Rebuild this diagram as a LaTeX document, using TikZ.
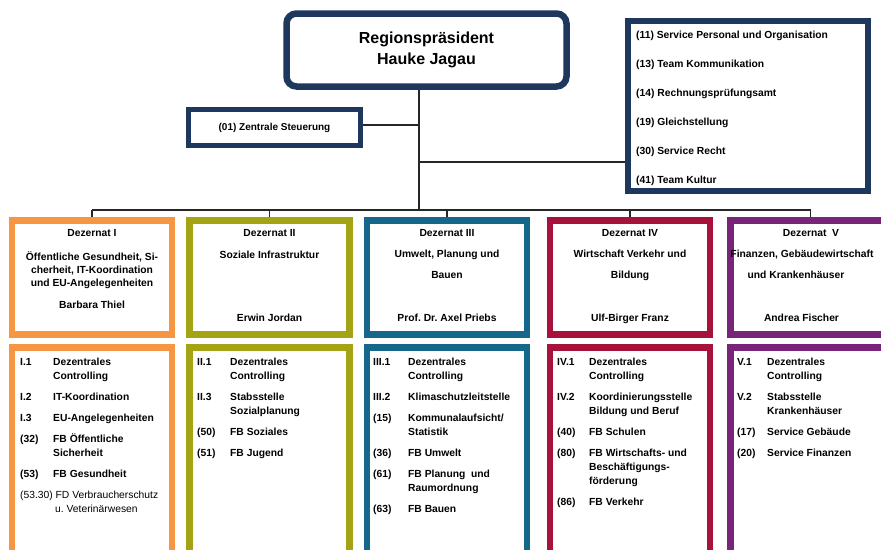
\documentclass[tikz,border=0pt]{standalone}
\usepackage{fontspec}
\setmainfont{Liberation Sans}
\frenchspacing

\definecolor{navy}{RGB}{30,55,92}
\definecolor{dezI}{RGB}{246,150,66}
\definecolor{dezII}{RGB}{163,163,19}
\definecolor{dezIII}{RGB}{22,104,138}
\definecolor{dezIV}{RGB}{166,18,58}
\definecolor{dezV}{RGB}{120,36,120}

\tikzset{
  box/.style={draw, fill=white, inner sep=0pt, line width=6.5pt},
  dhead/.style={box, minimum width=160pt, minimum height=114pt},
  dlist/.style={box, minimum width=160pt, minimum height=240pt, anchor=north},
  txt/.style={inner sep=0pt, anchor=base, font=\fontsize{10.3}{13}\selectfont\bfseries},
  list/.style={inner sep=0pt, anchor=base west, font=\fontsize{10.3}{14}\selectfont\bfseries},
  link/.style={line width=1.1pt, black!85}
}

\begin{document}
\begin{tikzpicture}[x=1pt, y=-1pt]
		\useasboundingbox (0,0) rectangle (881,549);
		\clip (0,0) rectangle (881,549);
		
		% Leitung
		\node[box, draw=navy, rounded corners=10pt, minimum width=280pt, minimum height=73pt,
		      align=center, font=\fontsize{16}{21}\selectfont\bfseries] (rp) at (426.5,50)
		      {Regionspräsident\\Hauke Jagau};
		\node[box, draw=navy, line width=5pt, minimum width=172pt, minimum height=36pt,
		      font=\fontsize{10}{12}\selectfont\bfseries] (zs) at (274.5,127.5) {(01) Zentrale Steuerung};
		\node[box, draw=navy, line width=6pt, minimum width=240pt, minimum height=170pt] (stab) at (748,106) {};
		\node[list, anchor=base west] (stabtext) at (636,38.7) {\begin{tabular}[t]{@{}l@{}}
			(11) Service Personal und Organisation\\[15pt]
			(13) Team Kommunikation\\[15pt]
			(14) Rechnungsprüfungsamt\\[15pt]
			(19) Gleichstellung\\[15pt]
			(30) Service Recht\\[15pt]
			(41) Team Kultur
		\end{tabular}};
		
		% Dezernate
		\node[dhead, draw=dezI]   (d1) at (92,277.5) {};
		\node[dhead, draw=dezII]  (d2) at (269.5,277.5) {};
		\node[dhead, draw=dezIII] (d3) at (447,277.5) {};
		\node[dhead, draw=dezIV]  (d4) at (630,277.5) {};
		\node[dhead, draw=dezV]   (d5) at (810.5,277.5) {};
		
		\node[dlist, draw=dezI]   (l1) at (92,344) {};
		\node[dlist, draw=dezII]  (l2) at (269.5,344) {};
		\node[dlist, draw=dezIII] (l3) at (447,344) {};
		\node[dlist, draw=dezIV]  (l4) at (630,344) {};
		\node[dlist, draw=dezV]   (l5) at (810.5,344) {};
		
		% connectors
		\coordinate (t1) at (419,125);
		\coordinate (t2) at (419,162);
		\coordinate (t3) at (419,210);
		\draw[link] (rp.south -| t1) -- (t3);
		\draw[link] (t1 -| zs.east) -- (t1);
		\draw[link] (t2) -- (t2 -| stab.west);
		\draw[link] (t3 -| d1.north) -- (t3 -| d5.north);
		\foreach \i in {1,...,5}
			\draw[link] (t3 -| d\i.north) -- (d\i.north);
		
		% Dezernat I
		\node[txt] (h1) at (92,236.7) {Dezernat I};
		\node[txt] (s1) at (92,260.7) {\begin{tabular}[t]{@{}c@{}}Öffentliche Gesundheit, Si-\\cherheit, IT-Koordination\\und EU-Angelegenheiten\end{tabular}};
		\node[txt] (n1) at (92,308.7) {Barbara Thiel};
		% Dezernat II
		\node[txt] (h2) at (269.5,236.7) {Dezernat II};
		\node[txt] (s2) at (269.5,258.7) {Soziale Infrastruktur};
		\node[txt] (n2) at (269.5,321.7) {Erwin Jordan};
		% Dezernat III
		\node[txt] (h3) at (447,236.7) {Dezernat III};
		\node[txt] (s3) at (447,257.7) {\begin{tabular}[t]{@{}c@{}}Umwelt, Planung und\\[8pt]Bauen\end{tabular}};
		\node[txt] (n3) at (447,321.7) {Prof. Dr. Axel Priebs};
		% Dezernat IV
		\node[txt] (h4) at (630,236.7) {Dezernat IV};
		\node[txt] (s4) at (630,257.7) {\begin{tabular}[t]{@{}c@{}}Wirtschaft Verkehr und\\[8pt]Bildung\end{tabular}};
		\node[txt] (n4) at (630,321.7) {Ulf-Birger Franz};
		% Dezernat V
		\node[txt] (h5) at (811,236.7) {Dezernat~~V};
		\node[txt] (s5) at (802,257.7) {Finanzen, Gebäudewirtschaft};
		\node[txt] (s5b) at (796,278.7) {und Krankenhäuser};
		\node[txt] (n5) at (801.5,321.7) {Andrea Fischer};
		
		% Fachbereiche
		\node[list] (f1) at (20,365.7) {\begin{tabular}[t]{@{}p{33pt}@{}l@{}}
			I.1 & Dezentrales\\
			    & Controlling\\[7pt]
			I.2 & IT-Koordination\\[7pt]
			I.3 & EU-Angelegenheiten\\[7pt]
			(32) & FB Öffentliche\\
			     & Sicherheit\\[7pt]
			(53) & FB Gesundheit\\[7pt]
			\multicolumn{2}{@{}l@{}}{\mdseries (53.30) FD Verbraucherschutz}\\
			\multicolumn{2}{@{}l@{}}{\mdseries\hspace{35pt}u. Veterinärwesen}
		\end{tabular}};
		\node[list] (f2) at (197,365.7) {\begin{tabular}[t]{@{}p{33pt}@{}l@{}}
			II.1 & Dezentrales\\
			     & Controlling\\[7pt]
			II.3 & Stabsstelle\\
			     & Sozialplanung\\[7pt]
			(50) & FB Soziales\\[7pt]
			(51) & FB Jugend
		\end{tabular}};
		\node[list] (f3) at (373,365.7) {\begin{tabular}[t]{@{}p{35pt}@{}l@{}}
			III.1 & Dezentrales\\
			      & Controlling\\[7pt]
			III.2 & Klimaschutzleitstelle\\[7pt]
			(15) & Kommunalaufsicht/\\
			     & Statistik\\[7pt]
			(36) & FB Umwelt\\[7pt]
			(61) & FB Planung~~und\\
			     & Raumordnung\\[7pt]
			(63) & FB Bauen
		\end{tabular}};
		\node[list] (f4) at (557,365.7) {\begin{tabular}[t]{@{}p{32pt}@{}l@{}}
			IV.1 & Dezentrales\\
			     & Controlling\\[7pt]
			IV.2 & Koordinierungsstelle\\
			     & Bildung und Beruf\\[7pt]
			(40) & FB Schulen\\[7pt]
			(80) & FB Wirtschafts- und\\
			     & Beschäftigungs-\\
			     & förderung\\[7pt]
			(86) & FB Verkehr
		\end{tabular}};
		\node[list] (f5) at (737,365.7) {\begin{tabular}[t]{@{}p{30pt}@{}l@{}}
			V.1 & Dezentrales\\
			    & Controlling\\[7pt]
			V.2 & Stabsstelle\\
			    & Krankenhäuser\\[7pt]
			(17) & Service Gebäude\\[7pt]
			(20) & Service Finanzen
		\end{tabular}};
	\end{tikzpicture}
\end{document}
